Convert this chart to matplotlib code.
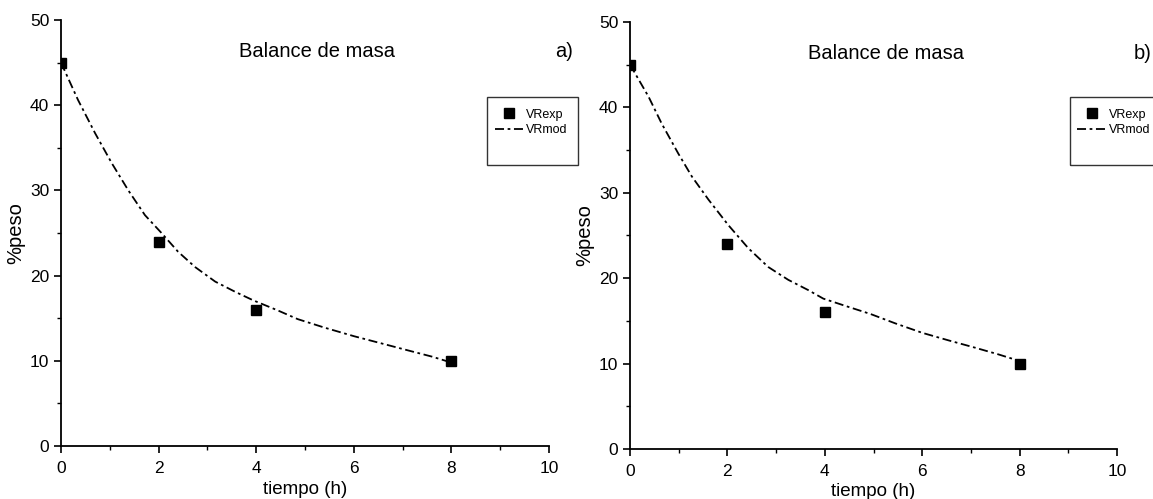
import matplotlib.pyplot as plt
import matplotlib.patches as patches

plt.rcParams['font.family'] = ['Liberation Sans', 'DejaVu Sans']

# experimental points (same in both panels)
t_exp = [0, 2, 4, 8]
vr_exp = [45, 24, 16, 10]

# model curves
t_mod_a = [0, 0.35, 0.70, 1.04, 1.38, 1.72, 2.06, 2.40, 2.75, 3.16, 3.57, 3.94,
           4.45, 4.85, 5.4, 6.0, 6.6, 7.13, 7.6, 8.0]
vr_mod_a = [45, 40.6, 36.7, 33.2, 30.0, 27.1, 25.0, 22.8, 21.0, 19.3, 18.1, 17.1,
            15.9, 14.9, 13.9, 12.9, 12.0, 11.2, 10.5, 9.8]
t_mod_b = [0, 0.38, 0.65, 0.99, 1.27, 1.61, 2.02, 2.43, 2.84, 3.25, 3.66, 3.97,
           4.45, 4.94, 5.45, 6.0, 6.55, 7.06, 7.55, 8.0]
vr_mod_b = [45, 41.25, 38.1, 34.6, 31.9, 29.2, 26.2, 23.5, 21.3, 19.8, 18.6, 17.6,
            16.7, 15.8, 14.7, 13.6, 12.7, 11.9, 11.1, 10.3]

fig = plt.figure(figsize=(11.53, 4.99), dpi=100)

panels = [
    ([0.0529, 0.106, 0.4233, 0.854], t_mod_a, vr_mod_a, 'a)', 1.03, (0.873, 0.819, 0.187, 0.16)),
    ([0.5464, 0.1002, 0.4224, 0.856], t_mod_b, vr_mod_b, 'b)', 1.053, (0.903, 0.824, 0.187, 0.16)),
]

for rect, tm, vm, tag, tag_x, box in panels:
    ax = fig.add_axes(rect)
    ax.plot(t_exp, vr_exp, 's', color='black', markersize=6.5, label='VRexp')
    ax.plot(tm, vm, color='black', lw=1.3, dashes=(5, 2, 1.5, 2), label='VRmod')

    ax.set_xlim(0, 10)
    ax.set_ylim(0, 50)
    ax.set_xticks([0, 2, 4, 6, 8, 10])
    ax.set_xticks([1, 3, 5, 7, 9], minor=True)
    ax.set_yticks([0, 10, 20, 30, 40, 50])
    ax.set_yticks([5, 15, 25, 35, 45], minor=True)
    ax.tick_params(which='major', direction='out', length=5, width=1.2, labelsize=12.5)
    ax.tick_params(axis='x', which='major', pad=6)
    ax.tick_params(which='minor', direction='out', length=3, width=1.0)
    for s in ['top', 'right']:
        ax.spines[s].set_visible(False)
    for s in ['left', 'bottom']:
        ax.spines[s].set_linewidth(1.3)

    ax.set_xlabel('tiempo (h)', fontsize=13.5, labelpad=3)
    ax.set_ylabel('%peso', fontsize=14.5, labelpad=3)

    ax.text(0.525, 0.925, 'Balance de masa', transform=ax.transAxes,
            ha='center', va='center', fontsize=14.5)
    ax.text(tag_x, 0.925, tag, transform=ax.transAxes,
            ha='center', va='center', fontsize=14.5, clip_on=False)

    bx, by, bw, bh = box
    ax.add_patch(patches.Rectangle((bx, by - bh), bw, bh, transform=ax.transAxes,
                                   fill=False, edgecolor='#333333', lw=1.0, clip_on=False))
    ax.legend(loc='upper left', bbox_to_anchor=(bx, by - 0.01), frameon=False,
              fontsize=9, handlelength=2.3, handletextpad=0.2, borderpad=0.3,
              borderaxespad=0.3, labelspacing=0.25)

fig.savefig('out.png', dpi=100)
